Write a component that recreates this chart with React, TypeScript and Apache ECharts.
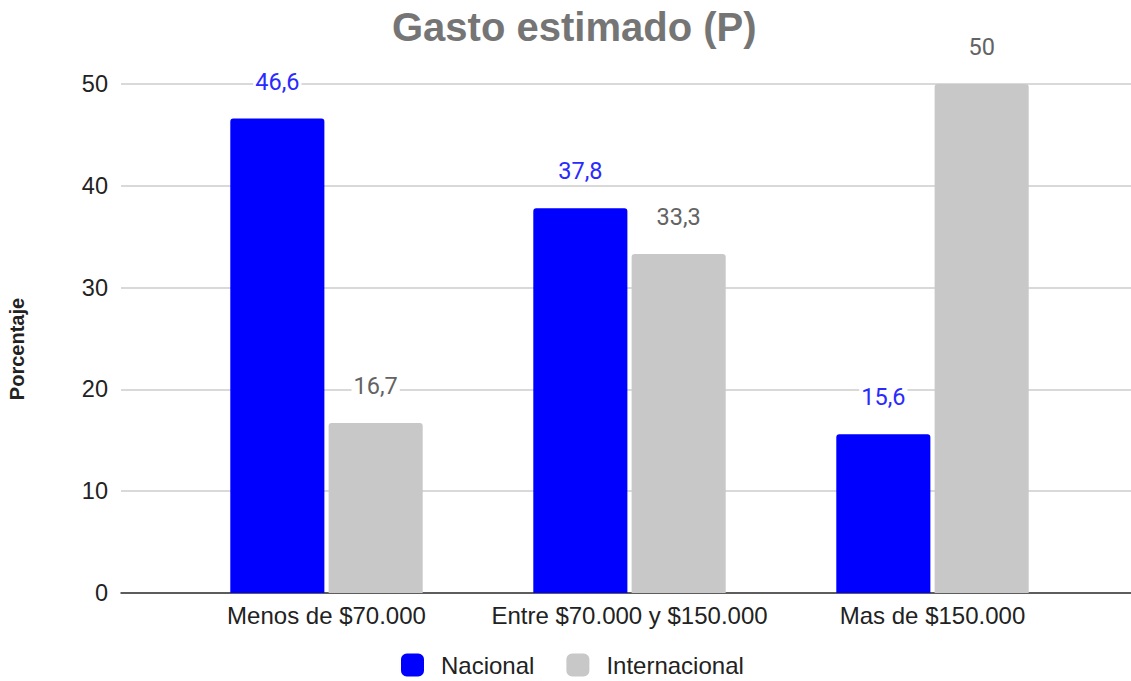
import React, { useEffect, useRef } from "react";
import * as echarts from "echarts";

const categories = ["Menos de $70.000", "Entre $70.000 y $150.000", "Mas de $150.000"];
const nacional = [46.6, 37.8, 15.6];
const internacional = [16.7, 33.3, 50];
const seriesNames = ["Nacional", "Internacional"];
const yTicks = { min: 0, max: 50, interval: 10 };
const yAxisTitle = "Porcentaje";

const fmt = (v: number) => String(v).replace(".", ",");

export default function App() {
  const ref = useRef<HTMLDivElement>(null);
  useEffect(() => {
    if (!ref.current) return;
    const chart = echarts.init(ref.current, undefined, { renderer: "svg" });
    const labelCommon = {
      show: true,
      position: "top" as const,
      distance: 25,
      fontFamily: "Roboto",
      fontSize: 23.5,
      backgroundColor: "#ffffff",
      padding: [0, 2],
      formatter: (p: any) => fmt(p.value),
    };
    chart.setOption({
      animation: false,
      backgroundColor: "#ffffff",
      title: {
        text: "Gasto estimado (P)",
        left: 387,
        top: 2,
        padding: 5,
        textStyle: {
          fontFamily: "Liberation Sans",
          fontWeight: "bold",
          fontSize: 40,
          color: "#757575",
        },
      },
      legend: {
        data: seriesNames,
        left: 401,
        top: 653,
        padding: 0,
        icon: "roundRect",
        itemWidth: 23,
        itemHeight: 23,
        itemGap: 32,
        textStyle: {
          fontFamily: "Liberation Sans",
          fontSize: 24,
          color: "#222222",
          padding: [0, 0, 0, 12],
        },
      },
      graphic: [
        {
          type: "text",
          x: 17,
          y: 349,
          rotation: Math.PI / 2,
          style: {
            text: yAxisTitle,
            align: "center",
            verticalAlign: "middle",
            fontFamily: "Liberation Sans",
            fontWeight: "bold",
            fontSize: 20,
            fill: "#222222",
          },
        },
      ],
      grid: [
        { left: 121, right: 0, top: 84, bottom: 88, containLabel: false },
        { left: 175, right: 47, top: 84, bottom: 88, containLabel: false },
      ],
      xAxis: [
        {
          gridIndex: 0,
          type: "value",
          min: 0,
          max: 1,
          axisLine: { show: true, lineStyle: { color: "#333333", width: 1.5 } },
          axisTick: { show: false },
          axisLabel: { show: false },
          splitLine: { show: false },
        },
        {
          gridIndex: 1,
          type: "category",
          data: categories,
          axisLine: { show: false },
          axisTick: { show: false },
          axisLabel: {
            interval: 0,
            margin: 10,
            fontFamily: "Liberation Sans",
            fontSize: 24,
            color: "#222222",
          },
        },
      ],
      yAxis: [
        {
          gridIndex: 0,
          type: "value",
          min: yTicks.min,
          max: yTicks.max,
          interval: yTicks.interval,
          axisLine: { show: false },
          axisTick: { show: false },
          axisLabel: {
            margin: 13,
            fontFamily: "Liberation Sans",
            fontSize: 23.5,
            color: "#222222",
          },
          splitLine: { lineStyle: { color: "#cccccc", width: 1.5 } },
        },
        {
          gridIndex: 1,
          type: "value",
          min: yTicks.min,
          max: yTicks.max,
          interval: yTicks.interval,
          show: false,
          splitLine: { show: false },
        },
      ],
      series: [
        {
          name: seriesNames[0],
          type: "bar",
          xAxisIndex: 1,
          yAxisIndex: 1,
          data: nacional,
          barGap: "4.5%",
          barCategoryGap: "36.5%",
          itemStyle: { color: "#0000ff", borderRadius: [3, 3, 0, 0] },
          label: { ...labelCommon, color: "#2a2aff" },
          z: 3,
        },
        {
          name: seriesNames[1],
          type: "bar",
          xAxisIndex: 1,
          yAxisIndex: 1,
          data: internacional,
          barGap: "4.5%",
          barCategoryGap: "36.5%",
          itemStyle: { color: "#c8c8c8", borderRadius: [3, 3, 0, 0] },
          label: { ...labelCommon, color: "#636363" },
          z: 3,
        },
      ],
    });
    return () => chart.dispose();
  }, []);
  return (
    <div
      ref={ref}
      style={{ position: "fixed", left: 0, top: 0, width: 1131, height: 681 }}
    />
  );
}
